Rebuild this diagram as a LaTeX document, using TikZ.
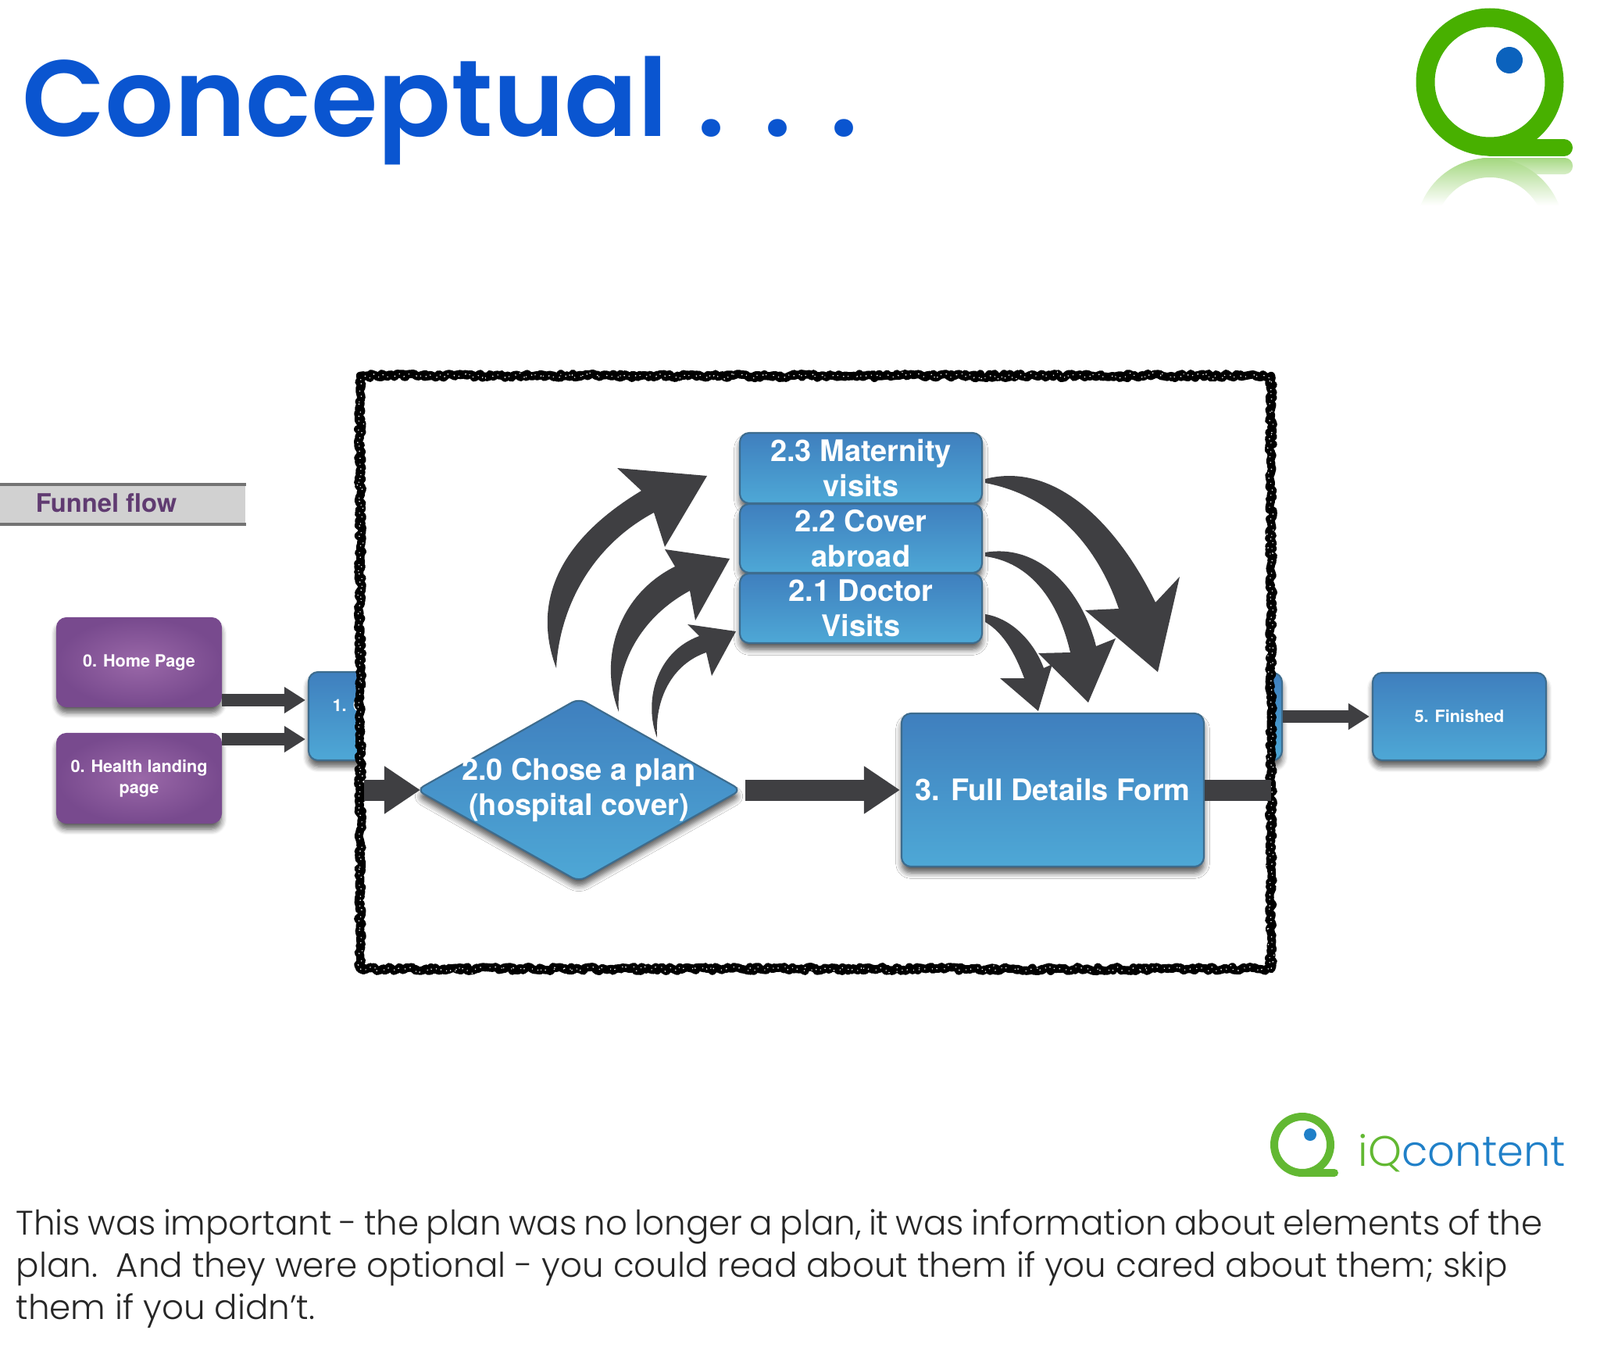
\documentclass[tikz,border=0pt]{standalone}
\usepackage{fontspec}
\setmainfont{TeX Gyre Heros}
\newfontfamily\titlefont{Poppins}[UprightFont=* SemiBold, WordSpace=1.15]
\newfontfamily\bodyfont{Poppins}[UprightFont=* Light]
\usetikzlibrary{arrows.meta,shapes.geometric,shadows,shadows.blur,decorations.pathmorphing}
\definecolor{azularriba}{HTML}{3F7FBE}
\definecolor{azulabajo}{HTML}{4EA8D6}
\definecolor{borde}{HTML}{3D6C8E}
\definecolor{moradoclaro}{HTML}{9A68A8}
\definecolor{moradoscuro}{HTML}{784A8E}
\definecolor{flecha}{HTML}{3F3F42}
\definecolor{verdelogo}{HTML}{48B000}
\definecolor{azullogo}{HTML}{0B62BD}
\definecolor{titulocolor}{HTML}{0A55D0}
\definecolor{verdemarca}{HTML}{62B832}
\definecolor{azulmarca}{HTML}{2080C8}
\pgfdeclareverticalshading{reflejo}{100bp}{color(0bp)=(white); color(59bp)=(white); color(75bp)=(verdelogo!50!white); color(100bp)=(verdelogo!50!white)}
\begin{document}
\begin{tikzpicture}[
      x=1cm, y=-1cm,
      sombra/.style={blur shadow={shadow blur steps=6, shadow blur radius=0.4ex, shadow xshift=0pt, shadow yshift=-0.08cm, shadow opacity=65}},
      caja/.style={draw=borde, line width=0.6pt, rounded corners=0.12cm, top color=azularriba, bottom color=azulabajo,
                   sombra, text=white, align=center, inner sep=0pt, font=\bfseries\fontsize{10.8}{12.8}\selectfont},
      chica/.style={caja, font=\bfseries\fontsize{6.15}{7.6}\selectfont},
      letrita/.style={text=white, inner sep=0pt, font=\bfseries\fontsize{6.15}{7.6}\selectfont},
      morada/.style={chica, draw=moradoscuro, inner color=moradoclaro, outer color=moradoscuro},
      rombo/.style={caja, shape=diamond, shape aspect=1.77, rounded corners=0.1cm, inner sep=-0.05cm},
      flujo/.style={draw=flecha, line width=0.27cm, -{Triangle[length=0.46cm, width=0.58cm, fill=flecha]}},
      flujochico/.style={draw=flecha, line width=0.16cm, -{Triangle[length=0.27cm, width=0.32cm, fill=flecha]}},
      curva/.style={fill=flecha},
      marco/.style={draw=black, fill=white, line width=3pt, line join=round, decorate,
                    decoration={random steps, segment length=0.8pt, amplitude=0.8pt},
                    postaction={draw=white, line width=0.35pt, dash pattern=on 0.4pt off 3.1pt on 0.3pt off 1.7pt, decorate,
                                decoration={random steps, segment length=1pt, amplitude=1.2pt}}},
      banda/.style={fill=black!18, minimum width=3.14cm, minimum height=0.5cm, inner sep=0pt}
    ]
    \useasboundingbox (0,0) rectangle (20.48,17.52);

    \node[titulocolor, font=\titlefont\fontsize{39.4}{46}\selectfont, anchor=base west] (titulo) at (0.16,1.74) {Conceptual . . .};

    \draw[verdelogo, line width=0.24cm] (19.07,1.05) circle (0.825);
    \draw[verdelogo, line width=0.22cm, line cap=round] (19.07,1.89) -- (20.02,1.89);
    \fill[azullogo] (19.32,0.77) circle (0.17);
    \shade[rounded corners=0.1cm, top color=verdelogo!48!white, bottom color=verdelogo!22!white] (18.9,2.02) rectangle (20.13,2.23);
    \begin{scope}
      \clip (17.9,2.02) rectangle (20.3,2.75);
      \shade[even odd rule, shading=reflejo]
        (19.07,2.97) circle (0.95) (19.07,2.97) circle (0.70);
    \end{scope}

    \node[banda] (barra) at (1.57,6.455) {};
    \draw[black!55, line width=1.2pt] (barra.north west) -- (barra.north east);
    \draw[black!55, line width=1.2pt] (barra.south west) -- (barra.south east);
    \node[text=moradoscuro!80!black, font=\bfseries\fontsize{9.3}{11}\selectfont] (funnel) at (1.36,6.44) {Funnel flow};

    \node[morada, minimum width=2.1cm, minimum height=1.13cm] (home) at (1.78,8.475) {0. Home Page};
    \node[morada, minimum width=2.1cm, minimum height=1.14cm] (health) at (1.78,9.96) {0. Health landing\\ page};
    \node[chica, minimum width=1.25cm, minimum height=1.13cm] (uno) at (4.575,9.165) {};
    \node[letrita, anchor=west] (unotxt) at (4.25,9.03) {1. C};
    \node[chica, minimum width=1.42cm, minimum height=1.12cm] (cuatro) at (15.70,9.17) {};
    \node[chica, minimum width=2.22cm, minimum height=1.12cm] (cinco) at (18.68,9.17) {5. Finished};

    \coordinate (ent1) at (uno.west |- 0,8.96);
    \coordinate (ent2) at (uno.west |- 0,9.46);
    \draw[flujochico, shorten >=0.03cm] (home.east |- ent1) -- (ent1);
    \draw[flujochico, shorten >=0.03cm] (health.east |- ent2) -- (ent2);
    \draw[flujochico, shorten >=0.03cm] (cuatro.east) -- (cinco.west);

    \node[marco, minimum width=11.66cm, minimum height=7.59cm] (marco) at (10.44,8.605) {};

    \node[rombo, minimum width=4.08cm, minimum height=2.30cm] (plan) at (7.41,10.11) {2.0 Chose a plan\\ (hospital cover)};
    \node[caja, minimum width=3.10cm, minimum height=0.90cm] (mat) at (11.02,5.99) {2.3 Maternity\\ visits};
    \node[caja, minimum width=3.10cm, minimum height=0.88cm] (cov) at (11.02,6.89) {2.2 Cover\\ abroad};
    \node[caja, minimum width=3.10cm, minimum height=0.89cm] (doc) at (11.02,7.785) {2.1 Doctor\\ Visits};
    \node[caja, minimum width=3.87cm, minimum height=1.96cm] (form) at (13.475,10.11) {3. Full Details Form};

    \coordinate (sale) at (4.66,10.11);
    \coordinate (llega) at (16.27,10.11);
    \draw[flujo, shorten >=-0.06cm] (sale) -- (plan.west);
    \draw[flujo, shorten <=0.04cm, shorten >=0.01cm] (plan.east) -- (form.west);
    \draw[draw=flecha, line width=0.27cm] (form.east) -- (llega);

    \fill[curva] (7.12,8.55) .. controls (6.82,7.75) and (7.10,6.95) .. (8.21,6.28)
      -- (7.90,5.99) -- (9.05,6.09) -- (8.51,7.00) -- (8.37,6.56)
      .. controls (7.55,7.00) and (7.16,7.80) .. (7.12,8.55) -- cycle;
    \fill[curva] (7.92,9.11) .. controls (7.66,8.45) and (7.90,7.62) .. (8.64,7.25)
      -- (8.51,7.03) -- (9.34,7.15) -- (8.90,7.94) -- (8.83,7.56)
      .. controls (8.20,7.90) and (7.88,8.50) .. (7.92,9.11) -- cycle;
    \fill[curva] (8.41,9.44) .. controls (8.24,9.00) and (8.38,8.35) .. (8.95,8.14)
      -- (8.80,7.99) -- (9.42,8.08) -- (9.11,8.65) -- (9.04,8.35)
      .. controls (8.60,8.50) and (8.38,8.95) .. (8.41,9.44) -- cycle;

    \fill[curva] (12.61,6.13) .. controls (13.50,5.90) and (14.30,6.70) .. (14.79,7.71)
      -- (15.10,7.38) -- (14.82,8.60) -- (13.89,7.81) -- (14.32,7.79)
      .. controls (14.05,7.00) and (13.50,6.35) .. (12.61,6.18) -- cycle;
    \fill[curva] (12.61,7.07) .. controls (13.30,6.95) and (13.85,7.55) .. (14.03,8.27)
      -- (14.28,8.17) -- (13.93,8.99) -- (13.29,8.36) -- (13.70,8.35)
      .. controls (13.55,7.70) and (13.20,7.20) .. (12.61,7.12) -- cycle;
    \fill[curva] (12.61,7.86) .. controls (12.98,7.92) and (13.25,8.25) .. (13.36,8.55)
      -- (13.47,8.50) -- (13.29,9.10) -- (12.80,8.68) -- (13.11,8.68)
      .. controls (13.00,8.38) and (12.85,8.10) .. (12.61,7.96) -- cycle;

    \draw[verdemarca, line width=0.10cm] (16.67,14.65) circle (0.36);
    \draw[verdemarca, line width=0.10cm, line cap=round] (16.67,15.01) -- (17.08,15.01);
    \fill[azulmarca] (16.77,14.52) circle (0.08);
    \node[font=\bodyfont\fontsize{15.5}{18}\selectfont, anchor=base west, inner sep=0pt] (marca) at (17.38,14.92)
      {\textcolor{verdemarca}{iQ}\textcolor{azulmarca}{content}};

    \node[font=\bodyfont\fontsize{12.4}{15.4}\selectfont, text=black!85, anchor=north west, align=left, inner sep=0pt] (cuerpo) at (0.2,15.47)
      {{\spaceskip=2.66pt This was important - the plan was no longer a plan, it was information about elements of the}\\
       plan.\ \ And they were optional - you could read about them if you cared about them; skip\\
       them if you didn’t.};
  \end{tikzpicture}
\end{document}
